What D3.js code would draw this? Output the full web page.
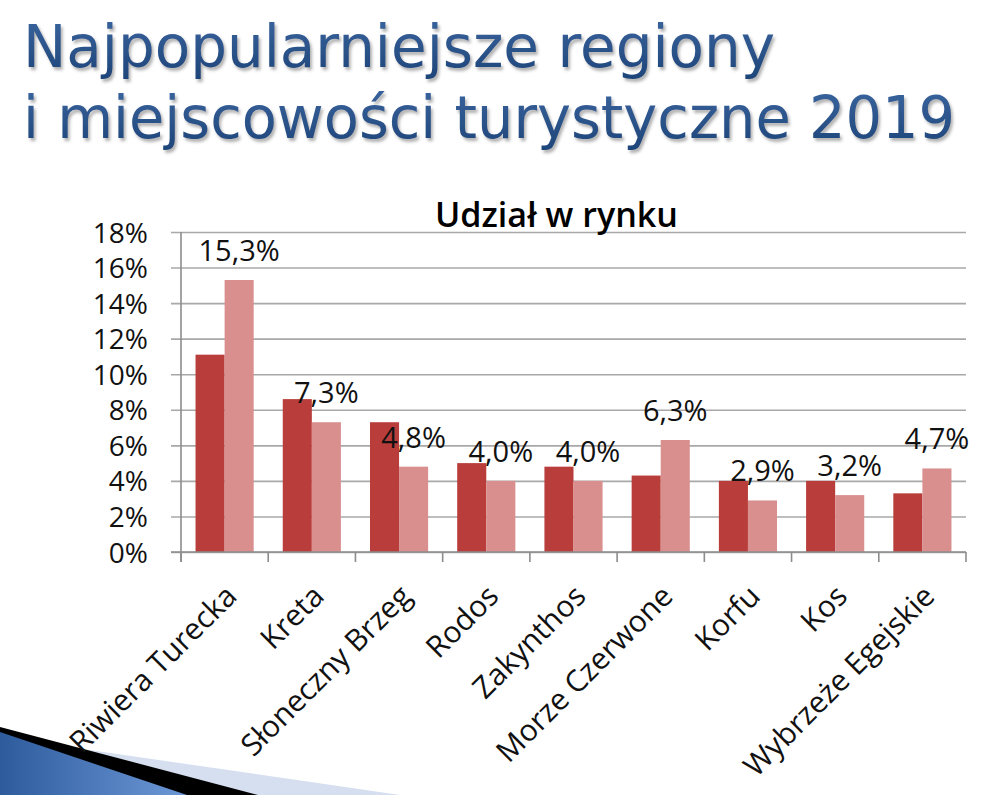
<!DOCTYPE html>
<html>
<head>
<meta charset="utf-8">
<script src="https://cdn.jsdelivr.net/npm/d3@7"></script>
<style>
  html, body { margin: 0; padding: 0; background: #fff; }
  svg { display: block; }
</style>
</head>
<body>
<div id="chart"></div>
<script>
// CHART DATA
var titleLines = ['Najpopularniejsze regiony', 'i miejscowości turystyczne 2019']
var chartTitle = 'Udział w rynku'
var categories = ['Riwiera Turecka', 'Kreta', 'Słoneczny Brzeg', 'Rodos', 'Zakynthos',
   'Morze Czerwone', 'Korfu', 'Kos', 'Wybrzeże Egejskie']
var share2018 = [11.1, 8.6, 7.3, 5.0, 4.8, 4.3, 4.0, 4.0, 3.3]
var share2019 = [15.3, 7.3, 4.8, 4.0, 4.0, 6.3, 2.9, 3.2, 4.7]
var yTicks = [0, 2, 4, 6, 8, 10, 12, 14, 16, 18]

// LAYOUT SETTINGS
var settings = {
   width: 1004,
   height: 795,
   plot: { left: 181, right: 966, top: 232, bottom: 552 },
   font: '"Open Sans", "DejaVu Sans", sans-serif',
   dark: '#B83D3B',
   light: '#D98F8E',
   grid: '#A8A8A8',
   axis: '#8C8C8C'
}

var svg = d3.select('#chart').append('svg')
   .attr('width', settings.width)
   .attr('height', settings.height)

var defs = svg.append('defs')

// TITLE SHADOW
var shadow = defs.append('filter').attr('id', 'shadow')
   .attr('filterUnits', 'userSpaceOnUse')
   .attr('x', 0).attr('y', 0).attr('width', settings.width).attr('height', 200)
shadow.append('feDropShadow')
   .attr('dx', 2).attr('dy', 3).attr('stdDeviation', 1.6)
   .attr('flood-color', '#555').attr('flood-opacity', 0.45)

var titleFill = defs.append('linearGradient').attr('id', 'titleFill')
   .attr('x1', 0).attr('y1', 0).attr('x2', 0).attr('y2', 1)
titleFill.append('stop').attr('offset', '0%').attr('stop-color', '#3C66A0')
titleFill.append('stop').attr('offset', '100%').attr('stop-color', '#1D4478')

var ribbon = defs.append('linearGradient').attr('id', 'ribbon')
   .attr('x1', 0).attr('y1', 0).attr('x2', 1).attr('y2', 0)
ribbon.append('stop').attr('offset', '0%').attr('stop-color', '#2D5B9C')
ribbon.append('stop').attr('offset', '100%').attr('stop-color', '#6D98D8')

// BOTTOM LEFT DECORATION
svg.append('path').attr('d', 'M0,737 L400,795 L0,795 Z').attr('fill', '#D5DFEF')
svg.append('path').attr('d', 'M0,727 L258,795 L0,795 Z').attr('fill', '#000')
svg.append('path').attr('d', 'M0,732 L187,795 L0,795 Z').attr('fill', 'url(#ribbon)')

// SLIDE TITLE
var titleWidths = [752, 932]
svg.selectAll('text.title')
   .data(titleLines)
      .enter().append('text')
         .attr('class', 'title')
         .attr('x', 23)
         .attr('y', (d, i) => { return 67 + i * 71 })
         .attr('textLength', (d, i) => { return titleWidths[i] })
         .attr('lengthAdjust', 'spacingAndGlyphs')
         .attr('font-family', '"DejaVu Sans", sans-serif')
         .attr('font-size', 59)
         .attr('fill', 'url(#titleFill)')
         .attr('filter', 'url(#shadow)')
         .text((d) => { return d })

// SCALES
var xScale = d3.scaleBand()
   .domain(categories)
   .range([settings.plot.left, settings.plot.right])

var xInner = d3.scaleBand()
   .domain([0, 1])
   .range([0, xScale.bandwidth()])
   .paddingOuter(0.5)

var yScale = d3.scaleLinear()
   .domain([0, 18])
   .range([settings.plot.bottom, settings.plot.top])

// GRIDLINES + Y AXIS
var yAxis = svg.append('g')
   .attr('transform', 'translate(' + settings.plot.left + ',0)')
   .call(d3.axisLeft(yScale)
      .tickValues(yTicks)
      .tickSize(-(settings.plot.right - settings.plot.left))
      .tickSizeOuter(0)
      .tickFormat((d) => { return d + '%' }))
yAxis.select('.domain').remove()
yAxis.selectAll('.tick line')
   .attr('x1', -10)
   .attr('stroke', settings.grid)
   .attr('stroke-width', 1.6)
yAxis.selectAll('.tick text')
   .attr('x', -33)
   .attr('dy', '0.36em')
   .attr('font-family', settings.font)
   .attr('font-size', 28)
   .attr('fill', '#111')

// VERTICAL AXIS LINE
svg.append('line')
   .attr('x1', settings.plot.left).attr('x2', settings.plot.left)
   .attr('y1', settings.plot.top).attr('y2', settings.plot.bottom + 10)
   .attr('stroke', settings.axis).attr('stroke-width', 1.6)

// CATEGORY TICKS
var tickPositions = categories.map((c) => { return xScale(c) }).concat([settings.plot.right])
svg.selectAll('line.xtick')
   .data(tickPositions)
      .enter().append('line')
         .attr('class', 'xtick')
         .attr('x1', (d) => { return d }).attr('x2', (d) => { return d })
         .attr('y1', settings.plot.bottom).attr('y2', settings.plot.bottom + 10)
         .attr('stroke', settings.axis).attr('stroke-width', 1.6)

// BARS
var groups = svg.selectAll('g.cat')
   .data(categories)
      .enter().append('g')
         .attr('class', 'cat')
         .attr('transform', (d) => { return 'translate(' + xScale(d) + ',0)' })

groups.append('rect')
   .attr('x', xInner(0))
   .attr('width', xInner.bandwidth())
   .attr('y', (d, i) => { return yScale(share2018[i]) })
   .attr('height', (d, i) => { return yScale(0) - yScale(share2018[i]) })
   .attr('fill', settings.dark)

groups.append('rect')
   .attr('x', xInner(1))
   .attr('width', xInner.bandwidth())
   .attr('y', (d, i) => { return yScale(share2019[i]) })
   .attr('height', (d, i) => { return yScale(0) - yScale(share2019[i]) })
   .attr('fill', settings.light)

// X AXIS BASELINE
svg.append('line')
   .attr('x1', settings.plot.left - 10).attr('x2', settings.plot.right)
   .attr('y1', settings.plot.bottom).attr('y2', settings.plot.bottom)
   .attr('stroke', settings.axis).attr('stroke-width', 1.6)

// DATA LABELS (2019)
groups.append('text')
   .attr('x', xInner(1) + xInner.bandwidth() / 2)
   .attr('y', (d, i) => { return yScale(share2019[i]) - 19 })
   .attr('text-anchor', 'middle')
   .attr('font-family', settings.font)
   .attr('font-size', 29)
   .attr('fill', '#111')
   .text((d, i) => { return d3.format('.1f')(share2019[i]).replace('.', ',') + '%' })

// CATEGORY LABELS
svg.selectAll('text.cat')
   .data(categories)
      .enter().append('text')
         .attr('class', 'cat')
         .attr('transform', (d) => {
            return 'translate(' + (xScale(d) + xScale.bandwidth() / 2 + 14) + ',' + (settings.plot.bottom + 46) + ') rotate(-45)'
         })
         .attr('text-anchor', 'end')
         .attr('font-family', settings.font)
         .attr('font-size', 30)
         .attr('fill', '#111')
         .text((d) => { return d })

// CHART TITLE
svg.append('text')
   .attr('x', 435)
   .attr('y', 227)
   .attr('textLength', 243)
   .attr('lengthAdjust', 'spacingAndGlyphs')
   .attr('font-family', settings.font)
   .attr('font-weight', 600)
   .attr('font-size', 34)
   .attr('fill', '#000')
   .text(chartTitle)
</script>
</body>
</html>
